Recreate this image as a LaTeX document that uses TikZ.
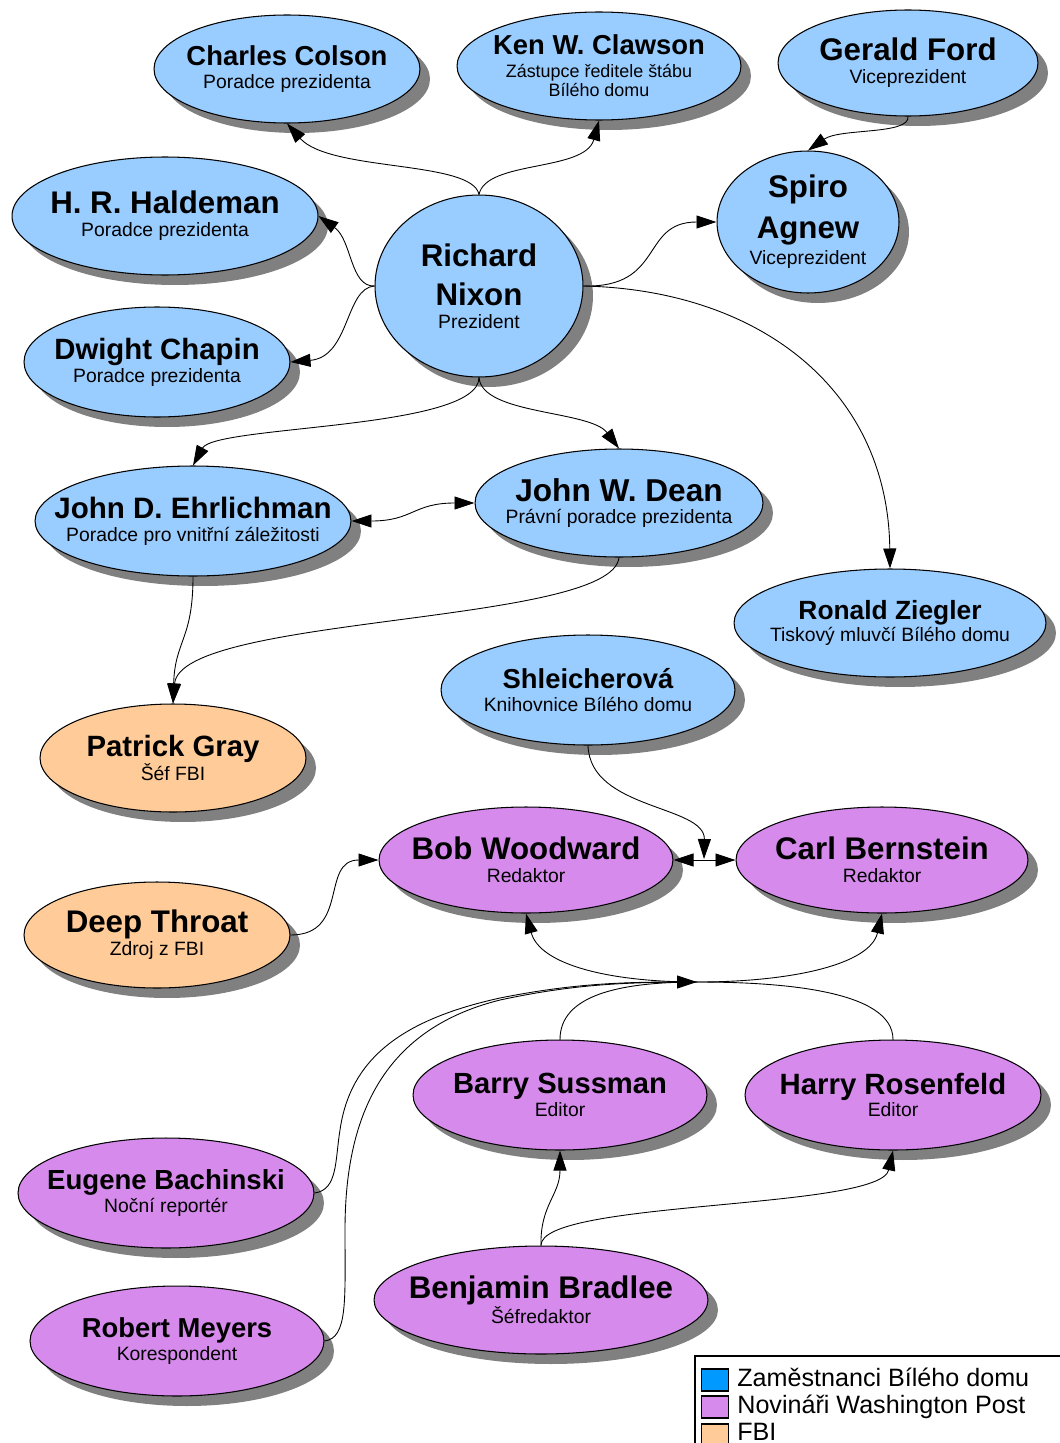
\documentclass[tikz,border=0pt]{standalone}
\usepackage{fontspec}
\setmainfont{Liberation Sans}
\usetikzlibrary{shapes, positioning, shadows, arrows.meta}

\definecolor{whblue}{HTML}{99CCFF}
\definecolor{wpviolet}{HTML}{D68AEC}
\definecolor{fbiorange}{HTML}{FFCC99}
\definecolor{legblue}{HTML}{0099FF}
\definecolor{shadowgray}{HTML}{808080}

\newcommand{\nm}[1]{\fontsize{#1}{13}\bfseries\selectfont}
\newcommand{\rl}{\fontsize{11}{13}\mdseries\selectfont}

\tikzset{
  person/.style={ellipse, draw, line width=0.6pt, inner sep=0pt,
    drop shadow={shadow xshift=0.2cm, shadow yshift=-0.2cm, fill=shadowgray, opacity=1},
    label={[align=center, inner sep=0pt, font=\rl]center:#1}},
  wh/.style={person={#1}, fill=whblue},
  wp/.style={person={#1}, fill=wpviolet},
  fbi/.style={person={#1}, fill=fbiorange},
  dims/.style 2 args={minimum width=#1cm, minimum height=#2cm},
  link/.style={-{Triangle[length=0.4cm, width=0.26cm]}, line width=0.5pt},
  twoway/.style={{Triangle[length=0.4cm, width=0.26cm]}-{Triangle[length=0.4cm, width=0.26cm]}, line width=0.5pt},
  legkey/.style={draw, line width=0.6pt, minimum width=0.54cm, minimum height=0.44cm, inner sep=0pt},
  legtext/.style={font=\fontsize{14.3}{16}\selectfont, inner sep=0pt, anchor=base west},
}

\begin{document}
\begin{tikzpicture}[x=0.02cm, y=-0.02cm]

        \useasboundingbox (0,0) rectangle (1059,1443);

        % White House staff
        \node[wh={\nm{15.6}Charles Colson\\\rl Poradce prezidenta}, dims={5.32}{2.16}] (Colson) at (287,69) {};
        \node[wh={\nm{15.6}Ken W. Clawson\\\fontsize{10.2}{13}\mdseries\selectfont Zástupce ředitele štábu\\[-2pt]\fontsize{10.2}{13}\mdseries\selectfont Bílého domu}, dims={5.68}{2.16}] (Clawson) at (599,66) {};
        \node[wh={\nm{17.8}Gerald Ford\\\rl Viceprezident}, dims={5.2}{2.12}] (Ford) at (908,63) {};
        \node[wh={\nm{17.8}H. R. Haldeman\\\rl Poradce prezidenta}, dims={6.12}{2.36}] (Haldeman) at (165,216) {};
        \node[wh={\nm{17.8}Richard\\[8pt]\nm{17.8}Nixon\\\rl Prezident}, dims={4.16}{3.64}] (Nixon) at (479,286) {};
        \node[wh={\nm{17.8}Spiro\\[6pt]\nm{17.8}Agnew\\[2pt]\rl Viceprezident}, dims={3.64}{2.84}] (Agnew) at (808,222) {};
        \node[wh={\nm{16.7}Dwight Chapin\\\rl Poradce prezidenta}, dims={5.32}{2.2}] (Chapin) at (157,362) {};
        \node[wh={\nm{16.8}John D. Ehrlichman\\\rl Poradce pro vnitřní záležitosti}, dims={6.32}{2.2}] (Ehrlichman) at (193,521) {};
        \node[wh={\nm{18}John W. Dean\\\rl Právní poradce prezidenta}, dims={5.76}{2.16}] (Dean) at (619,503) {};
        \node[wh={\nm{15}Ronald Ziegler\\\rl Tiskový mluvčí Bílého domu}, dims={6.24}{2.16}] (Ziegler) at (890,623) {};
        \node[wh={\nm{15.6}Shleicherová\\\rl Knihovnice Bílého domu}, dims={5.88}{2.2}] (Shleicherova) at (588,690) {};

        % FBI
        \node[fbi={\nm{16.7}Patrick Gray\\\rl Šéf FBI}, dims={5.32}{2.16}] (Gray) at (173,758) {};
        \node[fbi={\nm{17.8}Deep Throat\\\rl Zdroj z FBI}, dims={5.32}{2.12}] (DeepThroat) at (157,935) {};

        % Washington Post
        \node[wp={\nm{17.8}Bob Woodward\\\rl Redaktor}, dims={5.88}{2.12}] (Woodward) at (526,860) {};
        \node[wp={\nm{17.8}Carl Bernstein\\\rl Redaktor}, dims={5.84}{2.12}] (Bernstein) at (882,860) {};
        \node[wp={\nm{16.6}Barry Sussman\\\rl Editor}, dims={5.88}{2.2}] (Sussman) at (560,1095) {};
        \node[wp={\nm{16.7}Harry Rosenfeld\\\rl Editor}, dims={5.92}{2.2}] (Rosenfeld) at (893,1095) {};
        \node[wp={\nm{15.7}Eugene Bachinski\\\rl Noční reportér}, dims={5.92}{2.2}] (Bachinski) at (166,1193) {};
        \node[wp={\nm{15.6}Robert Meyers\\\rl Korespondent}, dims={5.88}{2.2}] (Meyers) at (177,1341) {};
        \node[wp={\nm{17.8}Benjamin Bradlee\\\rl Šéfredaktor}, dims={6.68}{2.16}] (Bradlee) at (541,1300) {};

        \coordinate (meet) at (704,859);
        \coordinate (hub) at (697,982);

        % Nixon and his people
        \draw[link] (Nixon.north) .. controls (472,160) and (330,172) .. (Colson.south);
        \draw[link] (Nixon.north) .. controls (486,160) and (585,172) .. (Clawson.south);
        \draw[link] (Nixon.west) .. controls (350,287) and (352,240) .. (Haldeman.east);
        \draw[link] (Nixon.west) .. controls (345,288) and (350,357) .. (Chapin.east);
        \draw[link] (Nixon.east) .. controls (665,288) and (640,222) .. (Agnew.west);
        \draw[link] (Nixon.east) .. controls (760,290) and (888,390) .. (Ziegler.north);
        \draw[link] (Nixon.south) .. controls (479,430) and (215,425) .. (Ehrlichman.north);
        \draw[link] (Nixon.south) .. controls (482,415) and (590,410) .. (Dean.north);
        \draw[link] (Ford.south) .. controls (910,135) and (840,128) .. (Agnew.north);
        \draw[twoway] (Ehrlichman.east) .. controls (413,521) and (413,503) .. (Dean.west);

        % towards the FBI
        \draw[link] (Ehrlichman.south) .. controls (193,640) and (175,640) .. (Gray.north);
        \draw[link] (Dean.south) .. controls (612,625) and (180,615) .. (Gray.north);

        % the Post
        \draw[link] (Shleicherova.south) .. controls (590,810) and (705,805) .. (meet);
        \draw[twoway] (Woodward.east) -- (Bernstein.west);
        \draw[link] (DeepThroat.east) .. controls (350,935) and (320,860) .. (Woodward.west);
        \draw[link] (hub) .. controls (610,982) and (540,965) .. (Woodward.south);
        \draw[link] (hub) .. controls (790,982) and (870,965) .. (Bernstein.south);
        \draw[line width=0.5pt] (Sussman.north) .. controls (560,995) and (620,982) .. (hub);
        \draw[line width=0.5pt] (Rosenfeld.north) .. controls (893,990) and (780,982) .. (hub);
        \draw[link] (Bachinski.east) .. controls (338,1190) and (335,1160) .. (340,1130)
          .. controls (350,1060) and (400,1020) .. (500,998) .. controls (570,984) and (620,982) .. (hub);
        \draw[line width=0.5pt] (Meyers.east) .. controls (348,1338) and (345,1300) .. (345,1230)
          .. controls (345,1120) and (380,1030) .. (500,1000) .. controls (570,985) and (620,982) .. (hub);
        \draw[link] (Bradlee.north) .. controls (540,1205) and (560,1195) .. (Sussman.south);
        \draw[link] (Bradlee.north) .. controls (540,1200) and (880,1210) .. (Rosenfeld.south);

        % legend
        \draw[line width=0.6pt] (695,1356) rectangle (1065,1450);
        \node[legkey, fill=legblue] (keyWH) at (715,1380) {};
        \node[legkey, fill=wpviolet] (keyWP) at (715,1407) {};
        \node[legkey, fill=fbiorange] (keyFBI) at (715,1435) {};
        \node[legtext] (txtWH) at (737,1386) {Zaměstnanci Bílého domu};
        \node[legtext] (txtWP) at (737,1413) {Novináři Washington Post};
        \node[legtext] (txtFBI) at (737,1440) {FBI};

      \end{tikzpicture}
\end{document}
